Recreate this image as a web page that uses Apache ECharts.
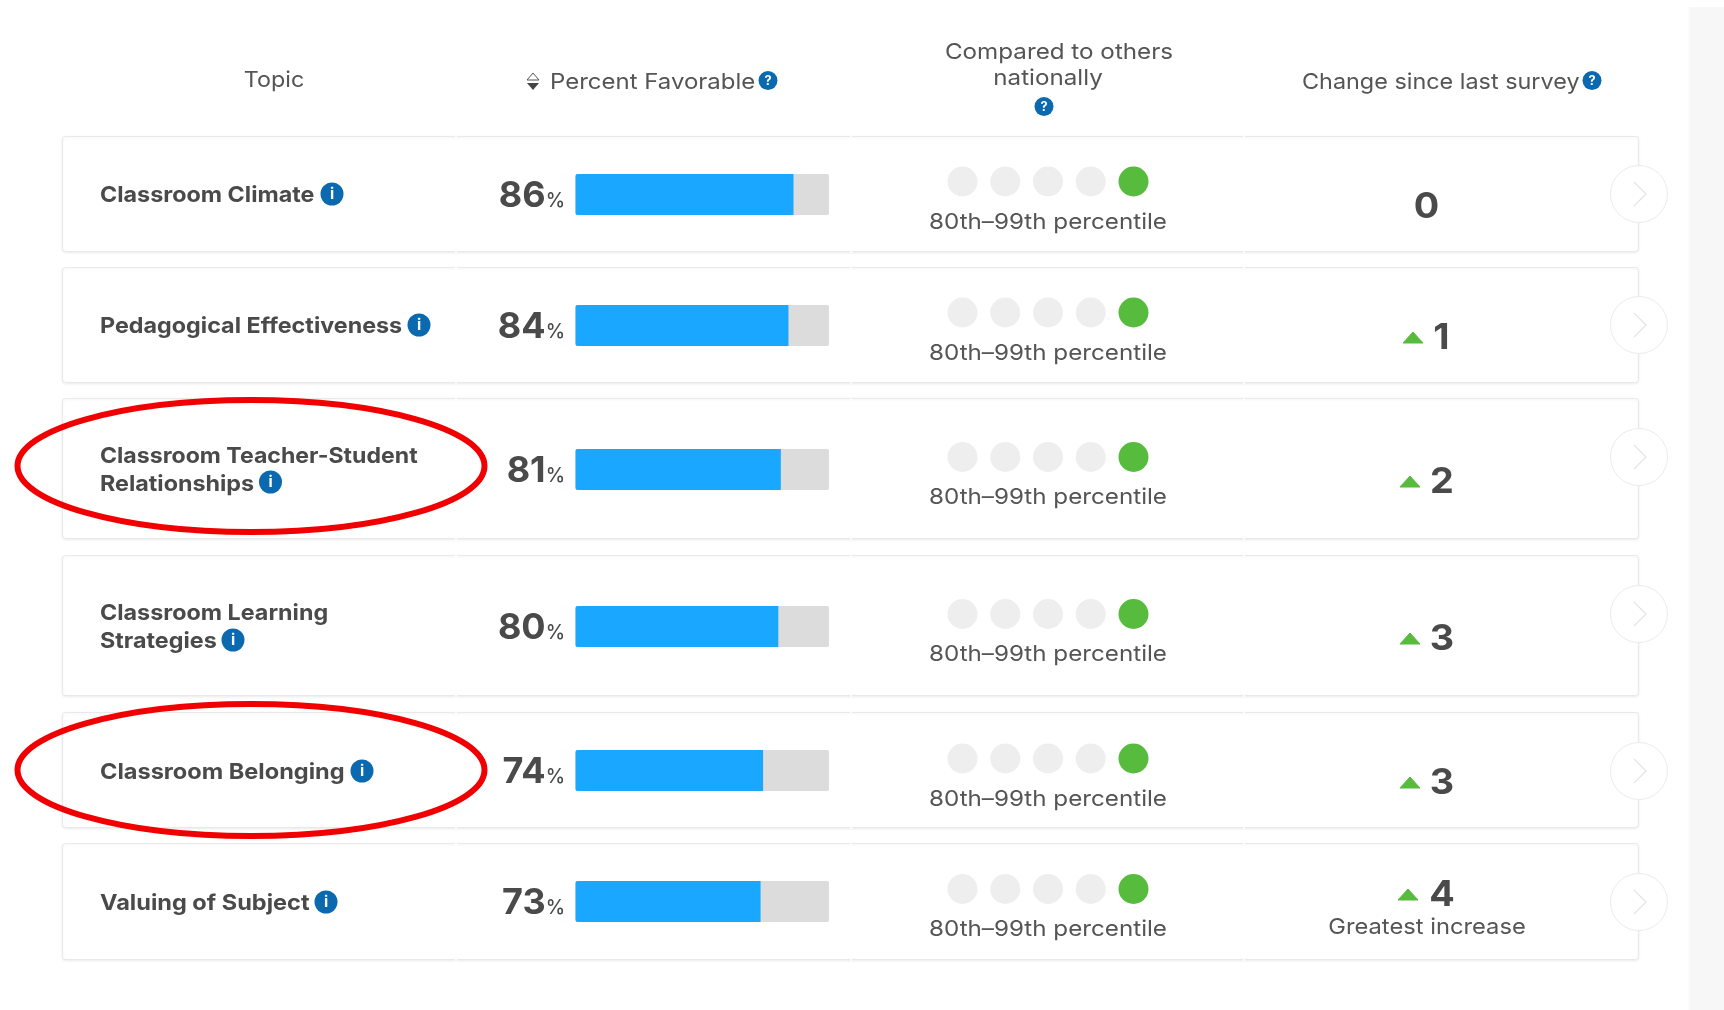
<!DOCTYPE html>
<html><head><meta charset="utf-8">
<style>html,body{margin:0;padding:0;background:#fff}#c{width:1724px;height:1010px}</style>
<script src="https://cdn.jsdelivr.net/npm/echarts@6/dist/echarts.min.js"></script>
</head><body><div id="c"></div>
<script>
// ---- data ----
const topics = [
  ['Classroom Climate'],
  ['Pedagogical Effectiveness'],
  ['Classroom Teacher-Student', 'Relationships'],
  ['Classroom Learning', 'Strategies'],
  ['Classroom Belonging'],
  ['Valuing of Subject']
];
const percentFavorable = [86, 84, 81, 80, 74, 73];
const nationalTier = [5, 5, 5, 5, 5, 5];
const tiers = [1, 2, 3, 4, 5];
const percentileLabels = ['80th–99th percentile','80th–99th percentile','80th–99th percentile','80th–99th percentile','80th–99th percentile','80th–99th percentile'];
const changeSinceLast = [0, 1, 2, 3, 3, 4];
const changeNotes = ['', '', '', '', '', 'Greatest increase'];
const circledRows = [2, 4];

// ---- layout (pixels) ----
const cardTop = [136, 267, 398, 555, 712, 843];
const cardBottom = [251, 382, 538, 695, 827, 959];
const barCenter = [194.5, 325.5, 469.5, 626.5, 770.5, 901.5];
const chevronY = [194, 325, 457, 614, 771, 902];
const dotCenter = [181.5, 312.5, 457, 614, 758.5, 889];
const noteY = [222, 353, 497.5, 654.5, 799, 929.5];
const triY = [204, 335, 479, 636, 780, 892];
const numY = [207, 338, 482, 639, 783, 895];
const labelY = [[195], [326], [456, 484], [613, 641], [772], [903]];
const labelScale = [[1.06], [1.06], [1.05, 1.06], [1.06, 1.06], [1.07], [1.07]];
const infoX = [332, 419, 270.5, 233, 362, 326];
const infoY = [194, 325, 482, 640, 771, 902];
const triX = [0, 1413, 1410, 1410, 1410, 1408];
const numX = [1426.5, 1441.5, 1442, 1442, 1442, 1442];
const FONT = 'Inter';
const TEXT = '#4a4a4a', SOFT = '#555555', BLUE = '#0b69b0', GREEN = '#57bb3d';

const g = [];
function text(x, y, s, size, weight, color, align, z, sx) {
  g.push({type:'text', x, y, scaleX: sx || 1, z: z || 6, silent:true, style:{text:s, fontFamily:FONT, fontSize:size, fontWeight:weight, fill:color, align:align||'left', verticalAlign:'middle'}});
}
function badge(x, y, r, s) {
  g.push({type:'circle', z:6, silent:true, shape:{cx:x, cy:y, r}, style:{fill:BLUE}});
  text(x, y + 0.5, s, r * 1.35, 700, '#fff', 'center', 7);
}
// right side band
g.push({type:'rect', z:0, silent:true, shape:{x:1690, y:7, width:34, height:1003}, style:{fill:'#f7f7f7'}});
g.push({type:'rect', z:0, silent:true, shape:{x:1688, y:7, width:2, height:1003}, style:{fill:'#fbfbfb'}});

topics.forEach((t, i) => {
  const h = cardBottom[i] - cardTop[i];
  g.push({type:'rect', z:1, silent:true, shape:{x:62.5, y:cardTop[i] + .5, width:1576, height:h, r:3},
    style:{fill:'#fff', stroke:'#e9e9e9', lineWidth:1, shadowBlur:3, shadowColor:'rgba(0,0,0,0.07)', shadowOffsetY:1}});
  [455, 850, 1243].forEach(x => {
    g.push({type:'rect', z:2, silent:true, shape:{x:x, y:cardTop[i] - 1, width:2, height:3}, style:{fill:'#fbfbfb'}});
    g.push({type:'rect', z:2, silent:true, shape:{x:x, y:cardBottom[i] - 1, width:2, height:3}, style:{fill:'#fbfbfb'}});
  });
  t.forEach((line, k) => text(100, labelY[i][k], line, 22, 700, TEXT, 'left', 6, labelScale[i][k]));
  badge(infoX[i], infoY[i], 11.5, 'i');
  // percent number
  g.push({type:'text', x:565, y:barCenter[i] + 2, z:6, silent:true, style:{
    text:'{n|' + percentFavorable[i] + '}{p|%}', align:'right', verticalAlign:'middle', fill:TEXT,
    rich:{n:{fontFamily:FONT, fontSize:36, fontWeight:700, fill:TEXT}, p:{fontFamily:FONT, fontSize:19.5, fontWeight:500, fill:TEXT, padding:[10,0,0,0]}}}});
  text(1048, noteY[i], percentileLabels[i], 22, 400, SOFT, 'center', 6, 1.1);
  // change
  const c = changeSinceLast[i];
  if (c > 0) {
    g.push({type:'polygon', z:6, silent:true, shape:{points:[[triX[i]-10, triY[i]+8],[triX[i], triY[i]-3],[triX[i]+10, triY[i]+8]]}, style:{fill:GREEN, stroke:GREEN, lineWidth:1, lineJoin:'round'}});
  }
  text(numX[i], numY[i], String(c), 36, 700, TEXT, 'center', 6, 1.05);
  if (changeNotes[i]) text(1427, 927, changeNotes[i], 22, 400, SOFT, 'center', 6, 1.078);
  // chevron button
  const cy = chevronY[i];
  g.push({type:'circle', z:5, silent:true, shape:{cx:1639, cy, r:28.5}, style:{fill:'#fff', stroke:'#ececec', lineWidth:1}});
  g.push({type:'polyline', z:6, silent:true, shape:{points:[[1634, cy-12],[1646, cy],[1634, cy+12]]}, style:{fill:null, stroke:'#e4e4e4', lineWidth:1.2}});
});

// header
text(274, 80.5, 'Topic', 22, 400, SOFT, 'center', 6, 1.06);
g.push({type:'polygon', z:6, silent:true, shape:{points:[[527,80],[539,80],[533,73]]}, style:{fill:'#fff', stroke:'#555', lineWidth:1}});
g.push({type:'polygon', z:6, silent:true, shape:{points:[[527,83],[539,83],[533,90]]}, style:{fill:'#444'}});
text(550, 82, 'Percent Favorable', 22, 400, SOFT, 'left', 6, 1.09);
badge(768, 80.5, 9.5, '?');
text(1059, 52, 'Compared to others', 22, 400, SOFT, 'center', 6, 1.10);
text(1048, 78, 'nationally', 22, 400, SOFT, 'center', 6, 1.10);
badge(1044, 106.5, 9.5, '?');
text(1302, 82, 'Change since last survey', 22, 400, SOFT, 'left', 6, 1.063);
badge(1592, 80.5, 9.5, '?');

// red hand-drawn ellipses
const ellipseCy = {2:466, 4:770};
circledRows.forEach(r => g.push({type:'ellipse', z:50, silent:true, shape:{cx:251, cy:ellipseCy[r], rx:233.5, ry:66}, style:{fill:null, stroke:'#f00000', lineWidth:6}}));

const grid = [], xAxis = [], yAxis = [], series = [];
percentFavorable.forEach((v, i) => {
  const n = grid.length;
  grid.push({left:575.5, width:253.5, top:barCenter[i] - 20.5, height:41});
  xAxis.push({type:'value', gridIndex:n, min:0, max:100, show:false});
  yAxis.push({type:'category', gridIndex:n, data:[topics[i].join(' ')], show:false});
  series.push({type:'bar', xAxisIndex:n, yAxisIndex:n, data:[v], barWidth:41, silent:true, z:10,
    showBackground:true, backgroundStyle:{color:'#dcdcdc', borderRadius:2},
    itemStyle:{color:'#1aa7ff', borderRadius:[2,0,0,2]}});
});
nationalTier.forEach((t, i) => {
  const n = grid.length;
  grid.push({left:962.5, width:171, top:dotCenter[i] - 15, height:30});
  xAxis.push({type:'value', gridIndex:n, min:1, max:5, show:false});
  yAxis.push({type:'value', gridIndex:n, min:0, max:2, show:false});
  series.push({type:'scatter', xAxisIndex:n, yAxisIndex:n, symbolSize:30, silent:true, z:10,
    data:tiers.map(k => ({value:[k, 1], itemStyle:{opacity:1, color:k === t ? GREEN : '#eeeeee'}}))});
});

const chart = echarts.init(document.getElementById('c'), null, {renderer:'canvas'});
chart.setOption({animation:false, backgroundColor:'#fff', tooltip:{show:false}, grid, xAxis, yAxis, series, graphic:{elements:g}});
</script></body></html>
